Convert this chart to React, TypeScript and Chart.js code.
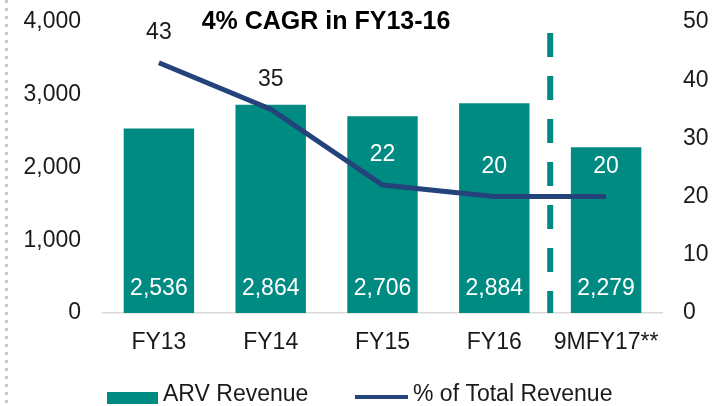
import React, { useEffect, useRef } from "react";
import { Chart, registerables } from "chart.js";

Chart.register(...registerables);

const categories = ["FY13", "FY14", "FY15", "FY16", "9MFY17**"];
const arvRevenue = [2536, 2864, 2706, 2884, 2279];
const pctOfTotal = [43, 35, 22, 20, 20];
const pctLabelColors = ["#1a1a1a", "#1a1a1a", "#ffffff", "#ffffff", "#ffffff"];
const leftTicks = [0, 1000, 2000, 3000, 4000];
const rightTicks = [0, 10, 20, 30, 40, 50];
const titleText = "4% CAGR in FY13-16";
const legendBar = "ARV Revenue";
const legendLine = "% of Total Revenue";

const TEAL = "#008B82";
const NAVY = "#23437A";
const FONT = "'Liberation Sans', Arial, sans-serif";
const FS = 23;

const overlayPlugin = {
  id: "overlay",
  beforeDatasetsDraw(chart: any) {
    const { ctx, chartArea, scales } = chart;
    const x = (scales.x.getPixelForValue(3) + scales.x.getPixelForValue(4)) / 2;
    ctx.save();
    ctx.strokeStyle = TEAL;
    ctx.lineWidth = 6;
    ctx.setLineDash([24, 19]);
    ctx.beginPath();
    ctx.moveTo(x, scales.y.getPixelForValue(4000) + 11);
    ctx.lineTo(x, chartArea.bottom);
    ctx.stroke();
    ctx.restore();
  },
  afterDraw(chart: any) {
    const { ctx, scales, height } = chart;
    ctx.save();
    // left dotted border
    ctx.strokeStyle = "#C8C8C8";
    ctx.lineWidth = 3;
    ctx.setLineDash([3, 5]);
    ctx.beginPath();
    ctx.moveTo(6.5, 0);
    ctx.lineTo(6.5, height);
    ctx.stroke();
    ctx.setLineDash([]);

    // title
    ctx.fillStyle = "#000";
    ctx.font = `bold 25px ${FONT}`;
    ctx.textAlign = "center";
    ctx.textBaseline = "middle";
    ctx.fillText(titleText, 326, 22);

    // bar labels
    ctx.font = `${FS}px ${FONT}`;
    ctx.fillStyle = "#ffffff";
    const y0 = scales.y.getPixelForValue(0);
    arvRevenue.forEach((v, i) => {
      const x = scales.x.getPixelForValue(i);
      ctx.fillText(v.toLocaleString("en-US"), x, y0 - 24);
    });

    // line labels
    pctOfTotal.forEach((v, i) => {
      const x = scales.x.getPixelForValue(i);
      const y = scales.y1.getPixelForValue(v);
      ctx.fillStyle = pctLabelColors[i];
      ctx.fillText(String(v), x, y - 30);
    });

    // legend
    ctx.fillStyle = TEAL;
    ctx.fillRect(107, 392, 51, 12);
    ctx.fillStyle = "#1a1a1a";
    ctx.textAlign = "left";
    ctx.fillText(legendBar, 163, 395);
    ctx.strokeStyle = NAVY;
    ctx.lineWidth = 4;
    ctx.beginPath();
    ctx.moveTo(355, 397);
    ctx.lineTo(408, 397);
    ctx.stroke();
    ctx.fillText(legendLine, 413, 395);
    ctx.restore();
  },
};

export default function App() {
  const ref = useRef<HTMLCanvasElement>(null);
  useEffect(() => {
    document.body.style.margin = "0";
    const chart = new Chart(ref.current!, {
      type: "bar",
      data: {
        labels: categories,
        datasets: [
          {
            type: "line",
            label: legendLine,
            data: pctOfTotal,
            yAxisID: "y1",
            borderColor: NAVY,
            borderWidth: 5,
            pointRadius: 0,
            tension: 0,
            order: 0,
          } as any,
          {
            type: "bar",
            label: legendBar,
            data: arvRevenue,
            yAxisID: "y",
            backgroundColor: TEAL,
            barPercentage: 0.63,
            categoryPercentage: 1,
            order: 1,
          },
        ],
      },
      options: {
        responsive: false,
        animation: false,
        layout: { padding: { top: 22, left: 0, right: 0, bottom: 0 } },
        plugins: { legend: { display: false }, tooltip: { enabled: false } },
        scales: {
          x: {
            grid: { display: false },
            border: { display: true, color: "#D9D9D9", width: 1.5 },
            ticks: { font: { family: FONT, size: FS }, color: "#1a1a1a", padding: 8 },
            afterFit(scale: any) {
              scale.height = 93;
            },
          },
          y: {
            position: "left",
            min: 0,
            max: 4000,
            afterBuildTicks(scale: any) {
              scale.ticks = leftTicks.map((v) => ({ value: v }));
            },
            grid: { display: false },
            border: { display: false },
            ticks: {
              font: { family: FONT, size: FS },
              color: "#1a1a1a",
              padding: 14,
              callback: (v: any) => Number(v).toLocaleString("en-US"),
            },
            afterFit(scale: any) {
              scale.width = 103;
              scale.paddingTop = 0;
              scale.paddingBottom = 0;
            },
          },
          y1: {
            position: "right",
            min: 0,
            max: 50,
            afterBuildTicks(scale: any) {
              scale.ticks = rightTicks.map((v) => ({ value: v }));
            },
            grid: { display: false },
            border: { display: false },
            ticks: {
              font: { family: FONT, size: FS },
              color: "#1a1a1a",
              padding: 13,
            },
            afterFit(scale: any) {
              scale.width = 52;
              scale.paddingTop = 0;
              scale.paddingBottom = 0;
            },
          },
        },
      },
      plugins: [overlayPlugin],
    });
    return () => chart.destroy();
  }, []);
  return (
    <canvas
      ref={ref}
      width={714}
      height={406}
      style={{ position: "absolute", top: 0, left: 0, display: "block" }}
    />
  );
}
